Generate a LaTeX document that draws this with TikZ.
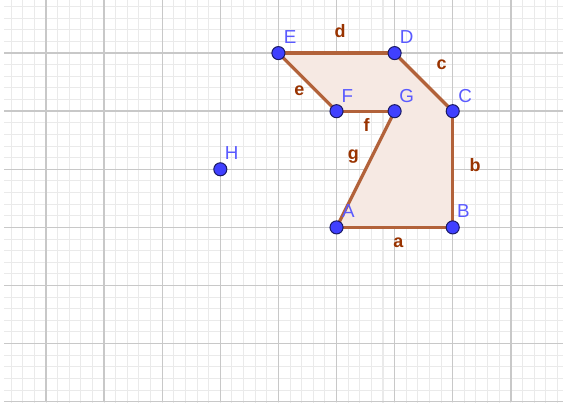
\documentclass[tikz,border=0pt]{standalone}
\usepackage{fontspec}
\setmainfont{Liberation Sans}
\definecolor{polyline}{RGB}{178,98,58}
\definecolor{polyfill}{RGB}{246,233,227}
\definecolor{ptblue}{RGB}{64,64,255}
\definecolor{ptlabel}{RGB}{90,90,255}
\definecolor{seglabel}{RGB}{153,51,0}
\definecolor{minorgrid}{RGB}{234,234,234}
\definecolor{majorgrid}{RGB}{200,200,200}
\tikzset{
  pt/.style={circle,fill=ptblue,draw=ptblue!40!black,line width=0.5pt,inner sep=0pt,minimum size=6.4pt},
  ptlab/.style={text=ptlabel,font=\fontsize{9.2}{10}\selectfont,inner sep=0pt},
  seglab/.style={text=seglabel,font=\bfseries\fontsize{8.8}{10}\selectfont,inner sep=0pt},
  side/.style={draw=polyline,line width=1.6pt,line cap=round}
}
\begin{document}
\begin{tikzpicture}[x=1cm,y=1cm]
\useasboundingbox (-0.792,-0.022) rectangle (8.898,6.914);
\fill[white] (-0.792,-0.022) rectangle (8.898,6.914);
% grid
\begin{scope}
\clip (-0.72,-0.022) rectangle (8.898,6.914);
\draw[minorgrid,line width=0.5pt] (-1,-0.2) grid[step=0.2] (9,7);
\draw[majorgrid,line width=0.7pt] (-1,-0.0001) grid[step=1] (9,7);
\end{scope}
% points
\coordinate (A) at (5,3);
\coordinate (B) at (7,3);
\coordinate (C) at (7,5);
\coordinate (D) at (6,6);
\coordinate (E) at (4,6);
\coordinate (F) at (5,5);
\coordinate (G) at (6,5);
\coordinate (H) at (3,4);
% polygon
\fill[polyfill] (A) -- (B) -- (C) -- (D) -- (E) -- (F) -- (G) -- cycle;
\draw[side] (A) -- (B);
\draw[side] (B) -- (C);
\draw[side] (C) -- (D);
\draw[side] (D) -- (E);
\draw[side] (E) -- (F);
\draw[side] (F) -- (G);
\draw[side] (G) -- (A);
% segment labels
\node[seglab] (la) at (6.064,2.737) {a};
\node[seglab] (lb) at (7.384,4.074) {b};
\node[seglab] (lc) at (6.810,5.795) {c};
\node[seglab] (ld) at (5.060,6.385) {d};
\node[seglab] (le) at (4.360,5.348) {e};
\node[seglab] (lf) at (5.520,4.762) {f};
\node[seglab] (lg) at (5.290,4.217) {g};
% point markers
\foreach \p in {A,B,C,D,E,F,G,H} \node[pt] (m\p) at (\p) {};
% point labels
\node[ptlab] (lA) at (5.203,3.288) {A};
\node[ptlab] (lB) at (7.182,3.288) {B};
\node[ptlab] (lC) at (7.212,5.262) {C};
\node[ptlab] (lD) at (6.208,6.277) {D};
\node[ptlab] (lE) at (4.200,6.277) {E};
\node[ptlab] (lF) at (5.186,5.262) {F};
\node[ptlab] (lG) at (6.208,5.262) {G};
\node[ptlab] (lH) at (3.196,4.275) {H};
\end{tikzpicture}
\end{document}
